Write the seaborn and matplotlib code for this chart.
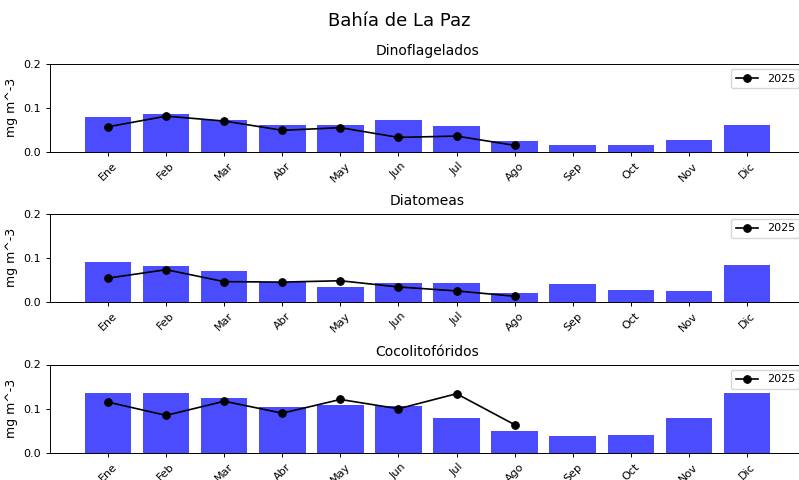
import numpy as np
import pandas as pd
import matplotlib
matplotlib.use("Agg")
import matplotlib.pyplot as plt
import seaborn as sns

meses = ["Ene", "Feb", "Mar", "Abr", "May", "Jun",
         "Jul", "Ago", "Sep", "Oct", "Nov", "Dic"]

# climatologia mensual (barras)
dino_clim = [0.079, 0.085, 0.072, 0.061, 0.062, 0.072,
             0.058, 0.025, 0.016, 0.015, 0.027, 0.060]
diat_clim = [0.090, 0.082, 0.069, 0.045, 0.033, 0.043,
             0.044, 0.021, 0.040, 0.028, 0.025, 0.083]
coco_clim = [0.135, 0.135, 0.124, 0.104, 0.109, 0.107,
             0.078, 0.050, 0.038, 0.041, 0.078, 0.135]

# 2025 (linea)
dino_2025 = [0.057, 0.081, 0.070, 0.049, 0.055, 0.033, 0.036, 0.015]
diat_2025 = [0.054, 0.073, 0.046, 0.045, 0.048, 0.034, 0.025, 0.013]
coco_2025 = [0.115, 0.085, 0.117, 0.090, 0.121, 0.100, 0.134, 0.064]

grupos = ["Dinoflagelados", "Diatomeas", "Cocolitofóridos"]
climas = [dino_clim, diat_clim, coco_clim]
anio = [dino_2025, diat_2025, coco_2025]

plt.rcParams.update({
    "font.size": 8,
    "xtick.labelsize": 8,
    "ytick.labelsize": 8,
    "axes.linewidth": 0.7,
    "xtick.major.size": 2.8,
    "ytick.major.size": 2.8,
    "xtick.major.width": 0.7,
    "ytick.major.width": 0.7,
})

W, H = 799, 480
fig = plt.figure(figsize=(W / 100, H / 100), dpi=100)
fig.suptitle("Bahía de La Paz", fontsize=13, y=0.974)

# posiciones de los ejes en pixeles (abajo)
bottoms = [328, 178, 27]
for i, (nombre, clim, serie) in enumerate(zip(grupos, climas, anio)):
    ax = fig.add_axes([50 / W, bottoms[i] / H, 755 / W, 88.5 / H])
    df = pd.DataFrame({"mes": meses, "valor": clim})
    sns.barplot(data=df, x="mes", y="valor", order=meses, color="blue",
                alpha=0.7, saturation=1, width=0.8, ax=ax)
    df2 = pd.DataFrame({"pos": np.arange(len(serie)), "valor": serie})
    sns.lineplot(data=df2, x="pos", y="valor", color="black", marker="o",
                 markersize=5.5, linewidth=1.2, markeredgecolor="black",
                 label="2025", ax=ax)
    ax.set_xlim(-1, 12)
    ax.set_ylim(0, 0.2)
    ax.set_yticks([0.0, 0.1, 0.2])
    ax.set_xticks(range(12))
    ax.set_xticklabels(meses, rotation=45)
    ax.set_xlabel("")
    ax.set_ylabel("mg m^-3", fontsize=9)
    ax.set_title(nombre, fontsize=10)
    ax.legend(loc="upper right", fontsize=8)

fig.savefig("out.png", dpi=100)
